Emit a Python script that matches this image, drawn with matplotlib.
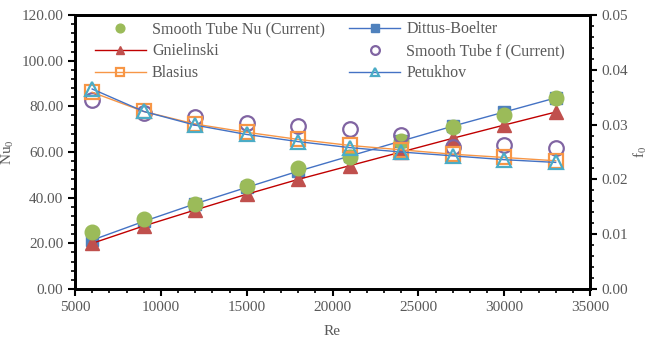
import matplotlib
matplotlib.use("Agg")
import matplotlib.pyplot as plt
from matplotlib.ticker import MultipleLocator, FormatStrFormatter

plt.rcParams['font.family'] = ['Liberation Serif', 'DejaVu Serif']
plt.rcParams['mathtext.fontset'] = 'custom'
plt.rcParams['mathtext.rm'] = 'Liberation Serif'

re_vals = [6000, 9000, 12000, 15000, 18000, 21000, 24000, 27000, 30000, 33000]

nu_smooth = [25.0, 30.8, 37.2, 45.0, 53.2, 57.8, 65.0, 71.0, 76.4, 83.7]
nu_dittus = [21.4, 29.6, 37.3, 44.5, 51.6, 58.2, 64.8, 71.3, 77.5, 83.7]
nu_gniel = [20.0, 27.6, 34.6, 41.5, 48.0, 54.0, 60.0, 66.0, 71.8, 77.5]

f_smooth = [0.0345, 0.0321, 0.0314, 0.0303, 0.0297, 0.0292, 0.0281, 0.0259, 0.0263, 0.0257]
f_blasius = [0.0359, 0.0324, 0.0301, 0.0286, 0.0273, 0.0262, 0.0254, 0.0246, 0.0240, 0.0234]
f_petukhov = [0.0365, 0.0324, 0.0299, 0.0282, 0.0269, 0.0258, 0.0250, 0.0243, 0.0236, 0.0231]

grey = '#595959'

fig = plt.figure(figsize=(6.5, 3.45), dpi=100)
ax = fig.add_axes([0.1154, 0.1623, 0.7923, 0.7942])
ax2 = ax.twinx()

h_db, = ax.plot(re_vals, nu_dittus, color='#4472C4', lw=1, marker='s', ms=9,
                mfc='#4F81BD', mec='#4F81BD', label='Dittus-Boelter')
h_gn, = ax.plot(re_vals, nu_gniel, color='#C00000', lw=1, marker='^', ms=9.5,
                mfc='#C0504D', mec='#C0504D', label='Gnielinski')
h_nu, = ax.plot(re_vals, nu_smooth, ls='none', marker='o', ms=10.5,
                mfc='#9BBB59', mec='#9BBB59', label='Smooth Tube Nu (Current)')

h_fs, = ax2.plot(re_vals, f_smooth, ls='none', marker='o', ms=10.5, mfc='none',
                 mec='#8064A2', mew=1.6, label='Smooth Tube f (Current)')
h_bl, = ax2.plot(re_vals, f_blasius, color='#F79646', lw=1, marker='s', ms=9.5,
                 mfc='none', mec='#F79646', mew=1.6, label='Blasius')
h_pe, = ax2.plot(re_vals, f_petukhov, color='#4472C4', lw=1, marker='^', ms=10,
                 mfc='none', mec='#4BACC6', mew=1.6, label='Petukhov')

ax.set_xlim(5000, 35000)
ax.set_ylim(0, 120)
ax2.set_ylim(0, 0.05)

ax.xaxis.set_major_locator(MultipleLocator(5000))
ax.xaxis.set_minor_locator(MultipleLocator(1000))
ax.yaxis.set_major_locator(MultipleLocator(20))
ax.yaxis.set_minor_locator(MultipleLocator(4))
ax.yaxis.set_major_formatter(FormatStrFormatter('%.2f'))
ax2.yaxis.set_major_locator(MultipleLocator(0.01))
ax2.yaxis.set_minor_locator(MultipleLocator(0.002))
ax2.yaxis.set_major_formatter(FormatStrFormatter('%.2f'))

for a in (ax, ax2):
    for sp in a.spines.values():
        sp.set_linewidth(2)
        sp.set_color('black')
    a.tick_params(which='major', direction='out', length=5, width=1.5,
                  labelsize=11, labelcolor=grey, color='black')
    a.tick_params(which='minor', direction='out', length=3, width=1.2, color='black')

ax.set_xlabel('Re', fontsize=11, color=grey, labelpad=8)
ax.set_ylabel(r'Nu$_\mathregular{0}$', fontsize=11, color=grey, labelpad=4)
ax2.set_ylabel(r'f$_\mathregular{0}$', fontsize=11, color=grey, labelpad=2)

handles = [h_nu, h_gn, h_bl, h_db, h_fs, h_pe]
leg = ax2.legend(handles, [h.get_label() for h in handles], ncol=2, frameon=False,
                 loc='upper left', bbox_to_anchor=(0.01, 1.03), fontsize=11.5,
                 handlelength=3.2, markerscale=0.6, labelspacing=0.38,
                 columnspacing=1.5, handletextpad=0.4)
for t in leg.get_texts():
    t.set_color(grey)

fig.savefig('out.png', dpi=100)
